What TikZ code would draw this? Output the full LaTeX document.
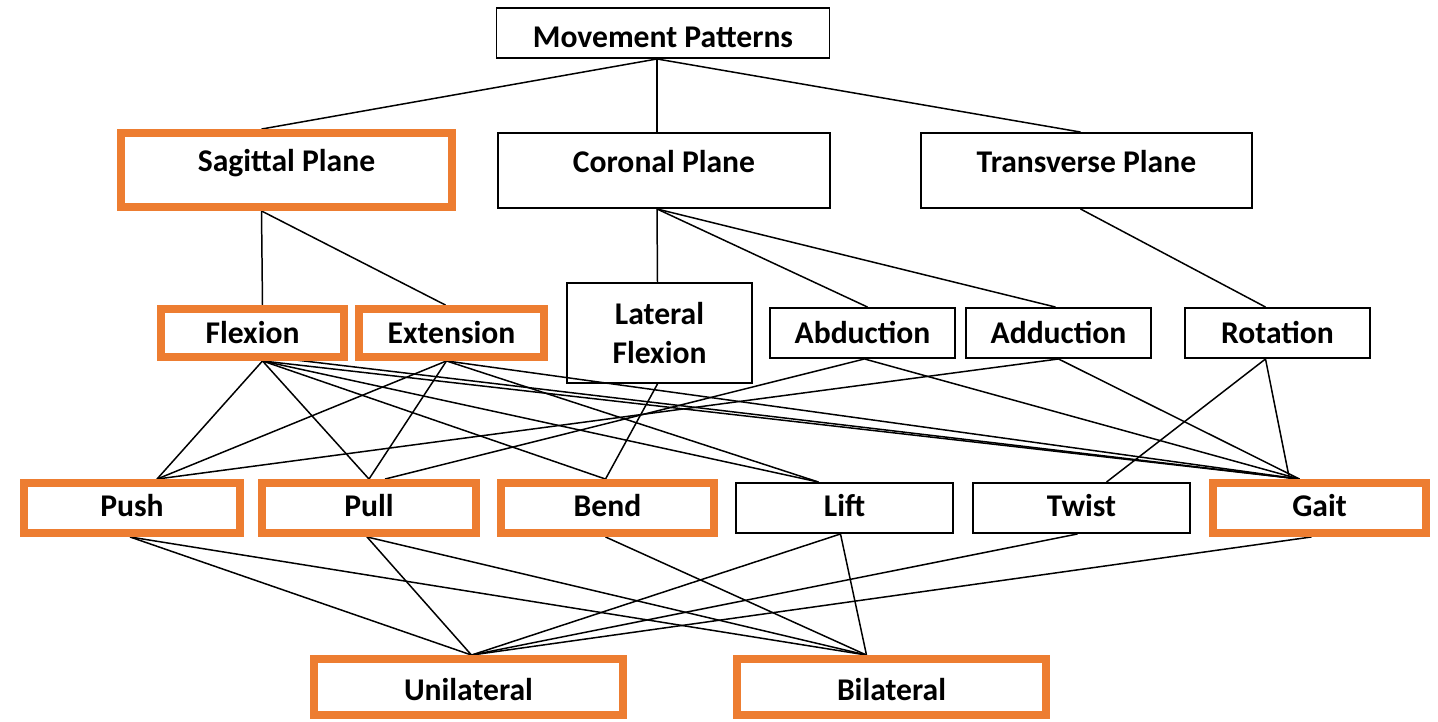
\documentclass[tikz,border=0pt]{standalone}
\usepackage{fontspec}
\setmainfont{Carlito}
\usetikzlibrary{calc,backgrounds}
\definecolor{accent}{HTML}{ED7D31}

\begin{document}
\begin{tikzpicture}[x=0.02cm, y=-0.02cm,
  box/.style={rectangle, draw, line width=1.1pt, inner sep=0pt, minimum width=#1*0.02cm, minimum height=1cm, align=center, font=\fontsize{18}{22}\selectfont\bfseries},
  keybox/.style={box=#1, draw=accent, line width=4.5pt},
  textdrop/.style={text height=#1, text depth=0pt},
  link/.style={line width=0.85pt}
]
  \useasboundingbox (0,0) rectangle (1438,721);

  % levels
  \node[box=333, textdrop=0.57cm] (mp) at (663,33) {Movement Patterns};
  \node[keybox=331, minimum height=1.48cm, textdrop=0.07cm] (sag) at (286.5,170) {Sagittal Plane};
  \node[box=332, minimum height=1.5cm, textdrop=0.07cm] (cor) at (664,170.5) {Coronal Plane};
  \node[box=331, minimum height=1.5cm, textdrop=0.07cm] (trans) at (1086.5,170.5) {Transverse Plane};

  \node[keybox=183, minimum height=0.96cm, textdrop=0.41cm] (flex) at (252.5,333) {Flexion};
  \node[keybox=185, minimum height=0.96cm, textdrop=0.41cm] (ext) at (451.5,333) {Extension};
  \node[box=185, minimum height=2cm] (latflex) at (659.5,333) {Lateral\\Flexion};
  \node[box=185, textdrop=0.41cm] (abd) at (862.5,333) {Abduction};
  \node[box=185, textdrop=0.41cm] (add) at (1058.5,333) {Adduction};
  \node[box=185, textdrop=0.41cm] (rot) at (1277.5,333) {Rotation};

  \node[keybox=216, textdrop=0.35cm] (push) at (132,508) {Push};
  \node[keybox=214, textdrop=0.35cm] (pull) at (369,508) {Pull};
  \node[keybox=213, textdrop=0.35cm] (bend) at (607.5,508) {Bend};
  \node[box=217, textdrop=0.35cm] (lift) at (844.5,508) {Lift};
  \node[box=217, textdrop=0.35cm] (twist) at (1081.5,508) {Twist};
  \node[keybox=213, textdrop=0.35cm] (gait) at (1319.5,508) {Gait};

  \node[keybox=309, minimum height=1.12cm, textdrop=0.52cm] (uni) at (468.5,687) {Unilateral};
  \node[keybox=309, minimum height=1.12cm, textdrop=0.52cm] (bi) at (891.5,687) {Bilateral};

  \begin{scope}[on background layer]
    % planes
    \draw[link] ($(mp.south)+(-6,0)$) -- ($(sag.north)+(-25,0)$);
    \draw[link] ($(mp.south)+(-6,0)$) -- ($(cor.north)+(-7,0)$);
    \draw[link] ($(mp.south)+(-6,0)$) -- ($(trans.north)+(-6,0)$);
    % motions
    \draw[link] ($(sag.south)+(-25,0)$) -- ($(flex.north)+(10,0)$);
    \draw[link] ($(sag.south)+(-25,0)$) -- ($(ext.north)+(-6,0)$);
    \draw[link] ($(cor.south)+(-7,0)$) -- ($(latflex.north)+(-2,0)$);
    \draw[link] ($(cor.south)+(-7,0)$) -- ($(abd.north)+(5,0)$);
    \draw[link] ($(cor.south)+(-7,0)$) -- ($(add.north)+(-3,0)$);
    \draw[link] ($(trans.south)+(-6,0)$) -- ($(rot.north)+(-12,0)$);
    % patterns
    \draw[link] ($(flex.south)+(10,0)$) -- ($(push.north)+(25,0)$);
    \draw[link] ($(flex.south)+(10,0)$) -- (pull.north);
    \draw[link] ($(flex.south)+(10,0)$) -- ($(bend.north)+(-2,0)$);
    \draw[link] ($(flex.south)+(10,0)$) -- ($(lift.north)+(-26,0)$);
    \draw[link] ($(flex.south)+(10,0)$) -- ($(gait.north)+(-20,0)$);
    \draw[link] ($(flex.south)+(26,-3)$) -- ($(gait.north)+(-20,0)$);
    \draw[link] ($(ext.south)+(-5,0)$) -- ($(push.north)+(25,0)$);
    \draw[link] ($(ext.south)+(-5,0)$) -- (pull.north);
    \draw[link] ($(ext.south)+(-5,0)$) -- ($(lift.north)+(-26,0)$);
    \draw[link] ($(ext.south)+(-5,0)$) -- ($(gait.north)+(-20,0)$);
    \draw[link] ($(latflex.south)+(-2,0)$) -- ($(bend.north)+(-2,0)$);
    \draw[link] ($(abd.south)+(2,0)$) -- ($(pull.north)+(16,0)$);
    \draw[link] ($(abd.south)+(2,0)$) -- ($(gait.north)+(-20,0)$);
    \draw[link] (add.south) -- ($(push.north)+(25,0)$);
    \draw[link] (add.south) -- ($(gait.north)+(-20,0)$);
    \draw[link] ($(rot.south)+(-12,0)$) -- ($(twist.north)+(25,0)$);
    \draw[link] ($(rot.south)+(-12,0)$) -- ($(gait.north)+(-30,0)$);
    % sides
    \draw[link] ($(push.south)+(-2,0)$) -- ($(uni.north)+(3,0)$);
    \draw[link] ($(push.south)+(-2,0)$) -- ($(bi.north)+(-25,0)$);
    \draw[link] ($(pull.south)+(-2,0)$) -- ($(uni.north)+(3,0)$);
    \draw[link] ($(pull.south)+(-2,0)$) -- ($(bi.north)+(-25,0)$);
    \draw[link] ($(bend.south)+(-2,0)$) -- ($(bi.north)+(-25,0)$);
    \draw[link] ($(lift.south)+(-4,0)$) -- ($(uni.north)+(3,0)$);
    \draw[link] ($(lift.south)+(-4,0)$) -- ($(bi.north)+(-25,0)$);
    \draw[link] ($(twist.south)+(-4,0)$) -- ($(uni.north)+(3,0)$);
    \draw[link] ($(gait.south)+(-8,0)$) -- ($(uni.north)+(3,0)$);
  \end{scope}
\end{tikzpicture}
\end{document}
